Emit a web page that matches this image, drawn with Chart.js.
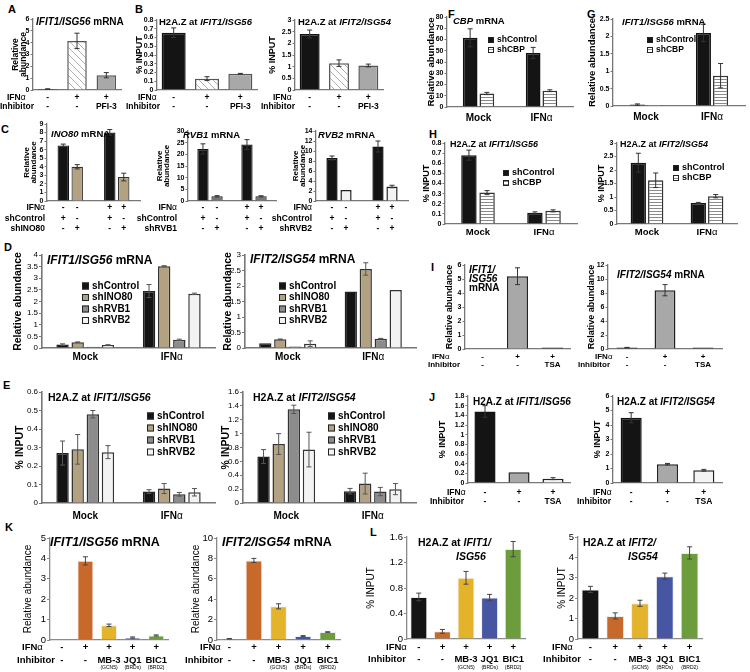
<!DOCTYPE html>
<html>
<head>
<meta charset="utf-8">
<script src="https://cdn.jsdelivr.net/npm/chart.js@4.4.1/dist/chart.umd.min.js"></script>
<style>
  body { margin: 0; background: #fff; }
  #page { position: relative; width: 750px; height: 672px; overflow: hidden; font-family: "Liberation Sans", Arial, sans-serif; }
  #page canvas { position: absolute; left: 0; top: 0; }
  .tag { position: absolute; font-weight: bold; font-size: 11px; line-height: 11px; }
</style>
</head>
<body>
<div id="page">
  <div class="tag" style="left:8px;top:4px">A</div>
  <div class="tag" style="left:135px;top:4px">B</div>
  <div class="tag" style="left:1px;top:124px">C</div>
  <div class="tag" style="left:4px;top:242px">D</div>
  <div class="tag" style="left:3px;top:380px">E</div>
  <div class="tag" style="left:448px;top:9px">F</div>
  <div class="tag" style="left:587px;top:9px">G</div>
  <div class="tag" style="left:429px;top:129px">H</div>
  <div class="tag" style="left:431px;top:262px">I</div>
  <div class="tag" style="left:429px;top:392px">J</div>
  <div class="tag" style="left:5px;top:522px">K</div>
  <div class="tag" style="left:370px;top:527px">L</div>
</div>
<script>
// ---- data ----
const treatGroups = ['Mock', 'IFNα'];

// A, B: PFI-3
const pfiCategories = ['Mock', 'IFNα', 'IFNα + PFI-3'];
const pfiIfn = ['-', '+', '+'];
const pfiInhibitor = ['-', '-', 'PFI-3'];
const aMrna = [0.08, 4.15, 1.25];
const aMrnaErr = [0.02, 0.65, 0.22];
const b1Input = [0.655, 0.13, 0.185];
const b1InputErr = [0.055, 0.022, 0.005];
const b2Input = [2.4, 1.15, 1.05];
const b2InputErr = [0.17, 0.14, 0.06];

// C: knockdowns
const kdIfn = ['-', '-', '+', '+'];
const kdControl = ['+', '-', '+', '-'];
const kdTarget = ['-', '+', '-', '+'];
const c1Mock = [6.5, 4.0], c1MockErr = [0.15, 0.25];
const c1Ifn = [8.0, 2.8], c1IfnErr = [0.35, 0.45];
const c2Mock = [22.3, 2.0], c2MockErr = [2.2, 0.3];
const c2Ifn = [24.2, 2.0], c2IfnErr = [2.1, 0.25];
const c3Mock = [8.6, 2.2], c3MockErr = [0.4, 0];
const c3Ifn = [10.9, 2.9], c3IfnErr = [1.1, 0.25];

// D, E: remodeler knockdowns
const remodelSeries = ['shControl', 'shINO80', 'shRVB1', 'shRVB2'];
const d1Mock = [0.15, 0.25, 0.05, 0.13], d1MockErr = [0.03, 0.01, 0, 0.01];
const d1Ifn = [2.45, 3.52, 0.35, 2.33], d1IfnErr = [0.28, 0.02, 0.03, 0.03];
const d2Mock = [0.15, 0.28, 0.05, 0.14], d2MockErr = [0, 0.01, 0, 0.09];
const d2Ifn = [1.82, 2.55, 0.3, 1.87], d2IfnErr = [0, 0.2, 0.01, 0];
const e1Mock = [0.27, 0.29, 0.48, 0.275], e1MockErr = [0.065, 0.08, 0.02, 0.035];
const e1Ifn = [0.062, 0.078, 0.047, 0.058], e1IfnErr = [0.01, 0.027, 0.01, 0.02];
const e2Mock = [0.67, 0.85, 1.35, 0.77], e2MockErr = [0.1, 0.15, 0.06, 0.25];
const e2Ifn = [0.17, 0.28, 0.165, 0.2], e2IfnErr = [0.04, 0.15, 0.06, 0.08];

// F, G, H: CBP knockdown
const cbpSeries = ['shControl', 'shCBP'];
const fMock = [61.5, 12], fMockErr = [8, 1];
const fIfn = [48, 14.5], fIfnErr = [5, 0.8];
const gMock = [0.04, 0.03], gMockErr = [0.02, 0];
const gIfn = [2.1, 0.87], gIfnErr = [0.25, 0.35];
const h1Mock = [0.68, 0.31], h1MockErr = [0.05, 0.02];
const h1Ifn = [0.11, 0.13], h1IfnErr = [0.01, 0.01];
const h2Mock = [2.27, 1.62], h2MockErr = [0.35, 0.27];
const h2Ifn = [0.78, 1.03], h2IfnErr = [0.02, 0.06];

// I, J: TSA
const tsaCategories = ['Mock', 'IFNα', 'IFNα + TSA'];
const tsaIfn = ['-', '+', '+'];
const tsaInhibitor = ['-', '-', 'TSA'];
const i1Mrna = [0.03, 5.2, 0.1], i1MrnaErr = [0, 0.6, 0];
const i2Mrna = [0.2, 8.4, 0.2], i2MrnaErr = [0.03, 0.8, 0];
const j1Input = [1.48, 0.22, 0.09], j1InputErr = [0.12, 0, 0.02];
const j2Input = [4.5, 1.3, 0.88], j2InputErr = [0.35, 0.05, 0.06];

// K, L: bromodomain inhibitors
const brdCategories = ['Mock', 'IFNα', 'MB-3', 'JQ1', 'BIC1'];
const brdIfn = ['-', '+', '+', '+', '+'];
const brdInhibitor = ['-', '-', 'MB-3', 'JQ1', 'BIC1'];
const brdTarget = ['', '', '(GCN5)', '(BRDs)', '(BRD2)'];
const k1Mrna = [0.02, 3.88, 0.72, 0.12, 0.22], k1MrnaErr = [0, 0.2, 0.06, 0.03, 0.03];
const k2Mrna = [0.12, 7.8, 3.3, 0.38, 0.78], k2MrnaErr = [0.03, 0.2, 0.25, 0.05, 0.03];
const l1Input = [0.66, 0.12, 0.96, 0.65, 1.41], l1InputErr = [0.06, 0.03, 0.1, 0.05, 0.12];
const l2Input = [2.43, 1.13, 1.75, 3.08, 4.22], l2InputErr = [0.15, 0.15, 0.15, 0.15, 0.3];

// ---- drawing ----
const W = 750, H = 672;
const FAMILY = '"Liberation Sans", Arial, sans-serif';
Chart.defaults.font.family = FAMILY;
const page = document.getElementById('page');

const BLACK = '#141414', TAN = '#b3a282', MIDGRAY = '#8c8c8c', PALE = '#f3f3f3';
const GREY = '#a8a8a8', DARKGRAY = '#767676';
const ORANGE = '#c8692c', YELLOW = '#e3b32c', BLUE = '#4656a2', GREEN = '#6d9c3d';

function makePattern(w, h, paint) {
  const c = document.createElement('canvas');
  c.width = w; c.height = h;
  const g = c.getContext('2d');
  g.fillStyle = '#fff';
  g.fillRect(0, 0, w, h);
  paint(g);
  return g.createPattern(c, 'repeat');
}
const HATCH = makePattern(7, 7, g => {
  g.strokeStyle = '#9a9a9a'; g.lineWidth = 0.8;
  g.beginPath();
  for (const o of [-7, 0, 7]) { g.moveTo(o, 0); g.lineTo(o + 7, 7); }
  g.stroke();
});
const STRIPES = makePattern(4, 3, g => { g.fillStyle = '#8a8a8a'; g.fillRect(0, 1, 4, 1); });

function parse(str, bold) {
  const segs = [];
  let it = false, cur = '';
  const push = normal => { if (cur) segs.push({ t: cur, i: it, b: bold && !normal }); cur = ''; };
  for (const ch of str) {
    if (ch === '*') { push(); it = !it; }
    else if (ch === 'α') { push(); cur = 'α'; push(true); }
    else cur += ch;
  }
  push();
  return segs;
}

function rich(ctx, str, x, y, size, align, bold = true) {
  const segs = parse(str, bold);
  const fonts = segs.map(s => `${s.i ? 'italic ' : ''}${s.b ? 'bold ' : ''}${size}px ${FAMILY}`);
  let w = 0;
  const ws = segs.map((s, k) => { ctx.font = fonts[k]; const m = ctx.measureText(s.t).width; w += m; return m; });
  let cx = align === 'right' ? x - w : align === 'center' ? x - w / 2 : x;
  ctx.textBaseline = 'middle';
  ctx.textAlign = 'left';
  ctx.fillStyle = '#000';
  segs.forEach((s, k) => { ctx.font = fonts[k]; ctx.fillText(s.t, cx, y); cx += ws[k]; });
}

function decorate(ch, s) {
  const ctx = ch.ctx, ys = ch.scales.y, xs = ch.scales.x;
  ctx.save();
  // error bars
  ctx.strokeStyle = s.errColor || '#333';
  ctx.lineWidth = 1;
  ch.data.datasets.forEach((ds, d) => {
    ch.getDatasetMeta(d).data.forEach((el, i) => {
      const e = ds.errors[i];
      if (!e) return;
      const v = ds.data[i];
      const top = ys.getPixelForValue(v + e), bot = ys.getPixelForValue(Math.max(v - e, 0));
      const cap = 2.5;
      ctx.beginPath();
      ctx.moveTo(el.x, top); ctx.lineTo(el.x, bot);
      ctx.moveTo(el.x - cap, top); ctx.lineTo(el.x + cap, top);
      ctx.moveTo(el.x - cap, bot); ctx.lineTo(el.x + cap, bot);
      ctx.stroke();
    });
  });
  if (s.title) s.title.items.forEach(it => rich(ctx, it.t, it.x, it.y, s.title.size, 'left'));
  if (s.xlab) s.labels.forEach((lab, i) => rich(ctx, lab, xs.getPixelForValue(i), s.xlab.y, s.xlab.size, 'center'));
  if (s.legend) {
    const L = s.legend;
    ch.data.datasets.forEach((ds, d) => {
      const y = L.y + d * L.step;
      ctx.fillStyle = ds.backgroundColor;
      ctx.fillRect(L.x, y - L.box / 2, L.box, L.box);
      ctx.strokeStyle = '#222';
      ctx.lineWidth = 1;
      ctx.strokeRect(L.x + 0.5, y - L.box / 2 + 0.5, L.box - 1, L.box - 1);
      rich(ctx, ds.label, L.x + L.box + 3, y, L.size, 'left');
    });
  }
  if (s.rows) {
    const bars = [];
    ch.data.datasets.forEach((ds, d) => ch.getDatasetMeta(d).data.forEach(el => bars.push(el.x)));
    bars.sort((a, b) => a - b);
    s.rows.forEach(r => {
      if (r.label) rich(ctx, r.label, r.x, r.y, s.rowSize, r.align || 'left');
      r.signs.forEach((sg, i) => { if (sg) rich(ctx, sg, bars[i], r.y, r.size || s.rowSize, 'center', !r.normal); });
    });
  }
  ctx.restore();
}

function makeChart(s) {
  const cv = document.createElement('canvas');
  cv.width = W; cv.height = H;
  page.appendChild(cv);
  const [x0, x1, y0, y1] = s.box;
  const yt = s.yTitle;
  const lhf = yt.lh || 1.1;
  const titleLeft = yt.x - yt.size * lhf / 2;
  const yw = x0 - titleLeft;
  const axis = s.axis || '#777';
  const tickFont = { family: FAMILY, size: s.tick.size, weight: s.tick.bold ? 'bold' : 'normal' };
  new Chart(cv, {
    type: 'bar',
    data: { labels: s.labels, datasets: s.datasets },
    options: {
      responsive: false,
      animation: false,
      events: [],
      layout: { padding: { left: titleLeft, right: W - x1, top: y0, bottom: H - y1 } },
      plugins: { legend: { display: false }, tooltip: { enabled: false } },
      scales: {
        x: {
          ticks: { display: false },
          grid: { display: false },
          border: { color: axis, width: s.axisWidth || 1.3 },
          afterFit: sc => { sc.height = 0; }
        },
        y: {
          min: 0,
          max: s.max,
          ticks: { stepSize: s.step, autoSkip: false, padding: 1, color: '#000', font: tickFont,
                   callback: v => String(+v.toFixed(2)) },
          grid: { drawOnChartArea: false, tickLength: s.tick.len || 3, color: axis },
          border: { color: axis, width: s.axisWidth || 1.3 },
          title: { display: true, text: yt.text, padding: 0, color: '#000',
                   font: { family: FAMILY, size: yt.size, weight: yt.bold ? 'bold' : 'normal', lineHeight: lhf } },
          afterFit: sc => { sc.width = yw; }
        }
      }
    },
    plugins: [{ id: 'deco', afterDatasetsDraw: ch => decorate(ch, s) }]
  });
}

function cond(values, errs, fills, borders, bw, cp, bp) {
  return [{ label: 'value', data: values, errors: errs, backgroundColor: fills, borderColor: borders,
            borderWidth: bw, categoryPercentage: cp, barPercentage: bp }];
}
function grouped(series, mock, ifn, mockErr, ifnErr, fills, borders, bw, cp, bp) {
  return series.map((name, k) => ({
    label: name, data: [mock[k], ifn[k]], errors: [mockErr[k], ifnErr[k]],
    backgroundColor: fills[k], borderColor: borders[k], borderWidth: bw,
    categoryPercentage: cp, barPercentage: bp
  }));
}

const smallTick = { size: 7, bold: true, len: 2.5 };
const midTick = { size: 8, bold: false };
const bigTick = { size: 9.5, bold: false };
const pfiFills = [BLACK, HATCH, GREY], pfiBorders = ['#111', '#555', '#555'];
const remodelFills = [BLACK, TAN, MIDGRAY, PALE], remodelBorders = ['#222', '#333', '#333', '#333'];
const cbpFills = [BLACK, STRIPES], cbpBorders = ['#111', '#333'];
const brdFills = [BLACK, ORANGE, YELLOW, BLUE, GREEN];
const brdBorders = '#eeeeee';

const specs = [
  // A
  { box: [33, 121, 19, 90], max: 6, step: 1, labels: pfiCategories, tick: smallTick,
    datasets: cond(aMrna, aMrnaErr, pfiFills, pfiBorders, 1.5, 0.7, 0.95),
    yTitle: { text: ['Relative', 'abundance'], size: 8.5, bold: true, x: 16, lh: 0.95 },
    title: { size: 10, items: [{ t: '*IFIT1/ISG56* mRNA', x: 36, y: 22 }] },
    rowSize: 8.5, rows: [{ label: 'IFNα', x: 7, y: 98, signs: pfiIfn }, { label: 'Inhibitor', x: 0, y: 107, signs: pfiInhibitor }] },
  // B
  { box: [157, 257, 20, 90], max: 0.8, step: 0.1, labels: pfiCategories, tick: smallTick,
    datasets: cond(b1Input, b1InputErr, pfiFills, pfiBorders, 1.5, 0.72, 1),
    yTitle: { text: '% INPUT', size: 9, bold: true, x: 140 },
    title: { size: 9.5, items: [{ t: 'H2A.Z at *IFIT1/ISG56*', x: 159, y: 22 }] },
    rowSize: 8.5, rows: [{ label: 'IFNα', x: 138, y: 98, signs: pfiIfn }, { label: 'Inhibitor', x: 126, y: 107, signs: pfiInhibitor }] },
  { box: [295, 383, 20, 90], max: 3, step: 0.5, labels: pfiCategories, tick: smallTick,
    datasets: cond(b2Input, b2InputErr, pfiFills, pfiBorders, 1.5, 0.68, 1),
    yTitle: { text: '% INPUT', size: 9, bold: true, x: 273 },
    title: { size: 9.5, items: [{ t: 'H2A.Z at *IFIT2/ISG54*', x: 298, y: 22 }] },
    rowSize: 8.5, rows: [{ label: 'IFNα', x: 273, y: 98, signs: pfiIfn }, { label: 'Inhibitor', x: 261, y: 107, signs: pfiInhibitor }] },
  // C
  { box: [47, 140, 124, 201], max: 9, step: 1, labels: treatGroups, tick: smallTick,
    datasets: grouped(['shControl', 'shINO80'], c1Mock, c1Ifn, c1MockErr, c1IfnErr, [BLACK, TAN], ['#111', '#333'], 1.2, 0.6, 0.82),
    yTitle: { text: ['Relative', 'abundance'], size: 8, bold: true, x: 27, lh: 0.85 },
    title: { size: 9.5, items: [{ t: '*INO80* mRNA', x: 51, y: 134 }] },
    rowSize: 8.5, rows: [{ label: 'IFNα', x: 45, y: 208, align: 'right', signs: kdIfn },
      { label: 'shControl', x: 45, y: 219, align: 'right', signs: kdControl },
      { label: 'shINO80', x: 45, y: 229, align: 'right', signs: kdTarget }] },
  { box: [188, 276, 131, 201], max: 30, step: 5, labels: treatGroups, tick: smallTick,
    datasets: grouped(['shControl', 'shRVB1'], c2Mock, c2Ifn, c2MockErr, c2IfnErr, [BLACK, DARKGRAY], ['#111', '#222'], 1.2, 0.64, 0.8),
    yTitle: { text: ['Relative', 'abundance'], size: 8, bold: true, x: 160, lh: 0.85 },
    title: { size: 9.5, items: [{ t: '*RVB1* mRNA', x: 183, y: 135 }] },
    rowSize: 8.5, rows: [{ label: 'IFNα', x: 177, y: 208, align: 'right', signs: kdIfn },
      { label: 'shControl', x: 177, y: 219, align: 'right', signs: kdControl },
      { label: 'shRVB1', x: 177, y: 229, align: 'right', signs: kdTarget }] },
  { box: [316, 408, 131, 201], max: 14, step: 2, labels: treatGroups, tick: smallTick,
    datasets: grouped(['shControl', 'shRVB2'], c3Mock, c3Ifn, c3MockErr, c3IfnErr, [BLACK, PALE], ['#111', '#222'], 1.5, 0.61, 0.8),
    yTitle: { text: ['Relative', 'abundance'], size: 8, bold: true, x: 296, lh: 0.85 },
    title: { size: 9.5, items: [{ t: '*RVB2* mRNA', x: 318, y: 135 }] },
    rowSize: 8.5, rows: [{ label: 'IFNα', x: 312, y: 208, align: 'right', signs: kdIfn },
      { label: 'shControl', x: 312, y: 219, align: 'right', signs: kdControl },
      { label: 'shRVB2', x: 312, y: 229, align: 'right', signs: kdTarget }] },
  // D
  { box: [42, 215, 255, 348], max: 4, step: 0.5, labels: treatGroups, tick: midTick, axisWidth: 1.6,
    datasets: grouped(remodelSeries, d1Mock, d1Ifn, d1MockErr, d1IfnErr, remodelFills, remodelBorders, 1.5, 0.7, 0.82),
    yTitle: { text: 'Relative abundance', size: 10.5, bold: true, x: 18.5 }, errColor: '#555',
    title: { size: 12, items: [{ t: '*IFIT1/ISG56* mRNA', x: 47, y: 261 }] },
    xlab: { y: 357, size: 10 }, legend: { x: 82, y: 286, step: 11.5, box: 7, size: 10 } },
  { box: [245, 416, 255, 348], max: 3, step: 0.5, labels: treatGroups, tick: midTick, axisWidth: 1.6,
    datasets: grouped(remodelSeries, d2Mock, d2Ifn, d2MockErr, d2IfnErr, remodelFills, remodelBorders, 1.5, 0.7, 0.82),
    yTitle: { text: 'Relative abundance', size: 10.5, bold: true, x: 228 }, errColor: '#555',
    title: { size: 12, items: [{ t: '*IFIT2/ISG54* mRNA', x: 250, y: 260 }] },
    xlab: { y: 357, size: 10 }, legend: { x: 279, y: 286, step: 11.5, box: 7, size: 10 } },
  // E
  { box: [42, 215, 392, 503], max: 0.6, step: 0.1, labels: treatGroups, tick: midTick, axisWidth: 1.6,
    datasets: grouped(remodelSeries, e1Mock, e1Ifn, e1MockErr, e1IfnErr, remodelFills, remodelBorders, 1.5, 0.7, 0.82),
    yTitle: { text: '% INPUT', size: 10.5, bold: true, x: 20 }, errColor: '#555',
    title: { size: 10.5, items: [{ t: 'H2A.Z at *IFIT1/ISG56*', x: 48, y: 398 }] },
    xlab: { y: 516, size: 10 }, legend: { x: 147, y: 416, step: 12, box: 7, size: 10 } },
  { box: [243, 416, 392, 503], max: 1.6, step: 0.2, labels: treatGroups, tick: midTick, axisWidth: 1.6,
    datasets: grouped(remodelSeries, e2Mock, e2Ifn, e2MockErr, e2IfnErr, remodelFills, remodelBorders, 1.5, 0.7, 0.82),
    yTitle: { text: '% INPUT', size: 10.5, bold: true, x: 226 }, errColor: '#555',
    title: { size: 10.5, items: [{ t: 'H2A.Z at *IFIT2/ISG54*', x: 253, y: 398 }] },
    xlab: { y: 516, size: 10 }, legend: { x: 328, y: 416, step: 12, box: 7, size: 10 } },
  // F
  { box: [447, 573, 17, 107], max: 80, step: 10, labels: treatGroups, tick: smallTick,
    datasets: grouped(cbpSeries, fMock, fIfn, fMockErr, fIfnErr, cbpFills, cbpBorders, 1.5, 0.53, 0.88),
    yTitle: { text: 'Relative abundance', size: 9.5, bold: true, x: 431 },
    title: { size: 9.5, items: [{ t: '*CBP* mRNA', x: 453, y: 21 }] },
    xlab: { y: 118, size: 10 }, legend: { x: 488, y: 40, step: 10, box: 6, size: 8.5 } },
  // G
  { box: [613, 745, 19, 106], max: 2.5, step: 0.5, labels: treatGroups, tick: smallTick,
    datasets: grouped(cbpSeries, gMock, gIfn, gMockErr, gIfnErr, cbpFills, cbpBorders, 1.5, 0.52, 0.88),
    yTitle: { text: 'Relative abundance', size: 9.5, bold: true, x: 592 },
    title: { size: 9.5, items: [{ t: '*IFIT1/ISG56* mRNA', x: 622, y: 22 }] },
    xlab: { y: 117, size: 10 }, legend: { x: 647, y: 40, step: 10, box: 6, size: 8.5 } },
  // H
  { box: [445, 577, 143, 224], max: 0.8, step: 0.1, labels: treatGroups, tick: smallTick,
    datasets: grouped(cbpSeries, h1Mock, h1Ifn, h1MockErr, h1IfnErr, cbpFills, cbpBorders, 1.5, 0.55, 0.85),
    yTitle: { text: '% INPUT', size: 9, bold: true, x: 427 },
    title: { size: 9, items: [{ t: 'H2A.Z at *IFIT1/ISG56*', x: 450, y: 145 }] },
    xlab: { y: 232, size: 9.5 }, legend: { x: 503, y: 173, step: 10, box: 6, size: 9 } },
  { box: [617, 737, 143, 224], max: 3, step: 0.5, labels: treatGroups, tick: smallTick,
    datasets: grouped(cbpSeries, h2Mock, h2Ifn, h2MockErr, h2IfnErr, cbpFills, cbpBorders, 1.5, 0.58, 0.88),
    yTitle: { text: '% INPUT', size: 9, bold: true, x: 602 },
    title: { size: 9, items: [{ t: 'H2A.Z at *IFIT2/ISG54*', x: 620, y: 145 }] },
    xlab: { y: 232, size: 9.5 }, legend: { x: 673, y: 168, step: 10, box: 6, size: 9 } },
  // I
  { box: [465, 570, 265, 349], max: 6, step: 1, labels: tsaCategories, tick: smallTick,
    datasets: cond(i1Mrna, i1MrnaErr, [BLACK, GREY, BLACK], ['#111', '#222', '#111'], 1.5, 0.6, 1),
    yTitle: { text: 'Relative abundance', size: 9, bold: true, x: 450 },
    title: { size: 10, items: [{ t: '*IFIT1/*', x: 469, y: 270 }, { t: '*ISG56*', x: 469, y: 279 }, { t: 'mRNA', x: 469, y: 288 }] },
    rowSize: 8, rows: [{ label: 'IFNα', x: 432, y: 357, signs: tsaIfn }, { label: 'Inhibitor', x: 428, y: 365, signs: tsaInhibitor }] },
  { box: [608, 722, 265, 349], max: 12, step: 2, labels: tsaCategories, tick: smallTick,
    datasets: cond(i2Mrna, i2MrnaErr, [BLACK, GREY, BLACK], ['#111', '#222', '#111'], 1.5, 0.55, 1),
    yTitle: { text: 'Relative abundance', size: 9, bold: true, x: 592 },
    title: { size: 10, items: [{ t: '*IFIT2/ISG54* mRNA', x: 617, y: 275 }] },
    rowSize: 8, rows: [{ label: 'IFNα', x: 595, y: 357, signs: tsaIfn }, { label: 'Inhibitor', x: 578, y: 365, signs: tsaInhibitor }] },
  // J
  { box: [468, 570, 396, 483], max: 1.8, step: 0.2, labels: tsaCategories, tick: smallTick,
    datasets: cond(j1Input, j1InputErr, [BLACK, GREY, PALE], ['#111', '#222', '#222'], 1.5, 0.62, 1),
    yTitle: { text: '% INPUT', size: 9, bold: true, x: 443 },
    title: { size: 10, items: [{ t: 'H2A.Z at *IFIT1/ISG56*', x: 473, y: 402 }] },
    rowSize: 8.5, rows: [{ label: 'IFNα', x: 447, y: 493, signs: tsaIfn }, { label: 'Inhibitor', x: 430, y: 502, signs: tsaInhibitor }] },
  { box: [613, 722, 396, 483], max: 6, step: 1, labels: tsaCategories, tick: smallTick,
    datasets: cond(j2Input, j2InputErr, [BLACK, GREY, PALE], ['#111', '#222', '#222'], 1.5, 0.58, 1),
    yTitle: { text: '% INPUT', size: 9, bold: true, x: 598 },
    title: { size: 10, items: [{ t: 'H2A.Z at *IFIT2/ISG54*', x: 617, y: 402 }] },
    rowSize: 8.5, rows: [{ label: 'IFNα', x: 593, y: 493, signs: tsaIfn }, { label: 'Inhibitor', x: 577, y: 502, signs: tsaInhibitor }] },
  // K
  { box: [50, 168, 538, 640], max: 5, step: 1, labels: brdCategories, tick: bigTick, axis: '#8a8a8a',
    datasets: cond(k1Mrna, k1MrnaErr, brdFills, brdBorders, 1, 0.68, 1),
    yTitle: { text: 'Relative abundance', size: 10, bold: false, x: 28 }, errColor: '#444',
    title: { size: 12.5, items: [{ t: '*IFIT1/ISG56* mRNA', x: 50, y: 543 }] },
    rowSize: 9.5, rows: [{ label: 'IFNα', x: 22, y: 647, signs: brdIfn }, { label: 'Inhibitor', x: 17, y: 660, signs: brdInhibitor },
      { y: 668, signs: brdTarget, size: 5, normal: true }] },
  { box: [217, 340, 538, 640], max: 10, step: 2, labels: brdCategories, tick: bigTick, axis: '#8a8a8a',
    datasets: cond(k2Mrna, k2MrnaErr, brdFills, brdBorders, 1, 0.68, 1),
    yTitle: { text: 'Relative abundance', size: 10, bold: false, x: 196 }, errColor: '#444',
    title: { size: 12.5, items: [{ t: '*IFIT2/ISG54* mRNA', x: 222, y: 543 }] },
    rowSize: 9.5, rows: [{ label: 'IFNα', x: 200, y: 647, signs: brdIfn }, { label: 'Inhibitor', x: 185, y: 660, signs: brdInhibitor },
      { y: 668, signs: brdTarget, size: 5, normal: true }] },
  // L
  { box: [407, 525, 537, 639], max: 1.6, step: 0.4, labels: brdCategories, tick: bigTick, axis: '#8a8a8a',
    datasets: cond(l1Input, l1InputErr, brdFills, brdBorders, 1, 0.72, 1),
    yTitle: { text: '% INPUT', size: 10, bold: false, x: 371 }, errColor: '#444',
    title: { size: 10.5, items: [{ t: 'H2A.Z at *IFIT1/*', x: 418, y: 543 }, { t: '*ISG56*', x: 456, y: 557 }] },
    rowSize: 9.5, rows: [{ label: 'IFNα', x: 386, y: 647, signs: brdIfn }, { label: 'Inhibitor', x: 368, y: 659, signs: brdInhibitor },
      { y: 668, signs: brdTarget, size: 5, normal: true }] },
  { box: [578, 702, 537, 639], max: 5, step: 1, labels: brdCategories, tick: bigTick, axis: '#8a8a8a',
    datasets: cond(l2Input, l2InputErr, brdFills, brdBorders, 1, 0.72, 1),
    yTitle: { text: '% INPUT', size: 10, bold: false, x: 562 }, errColor: '#444',
    title: { size: 10.5, items: [{ t: 'H2A.Z at *IFIT2/*', x: 583, y: 543 }, { t: '*ISG54*', x: 628, y: 557 }] },
    rowSize: 9.5, rows: [{ label: 'IFNα', x: 552, y: 647, signs: brdIfn }, { label: 'Inhibitor', x: 543, y: 659, signs: brdInhibitor },
      { y: 668, signs: brdTarget, size: 5, normal: true }] }
];

specs.forEach(makeChart);
</script>
</body>
</html>
